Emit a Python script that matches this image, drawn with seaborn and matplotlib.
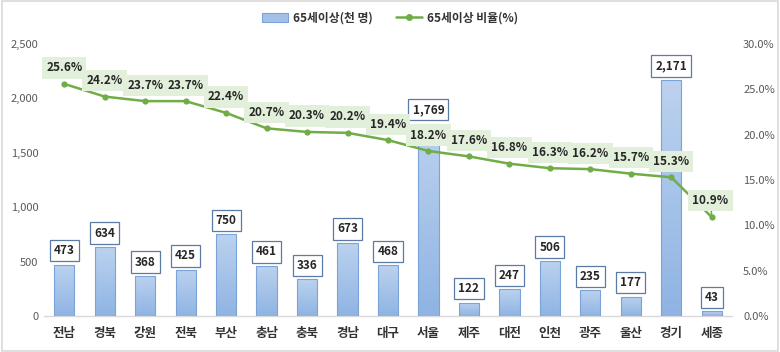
import numpy as np
import pandas as pd
import matplotlib
matplotlib.use("Agg")
import matplotlib.pyplot as plt
import seaborn as sns
from matplotlib.patches import Rectangle
from matplotlib.lines import Line2D
from matplotlib.ticker import FuncFormatter
from matplotlib.colors import LinearSegmentedColormap

regions = ["전남", "경북", "강원", "전북", "부산", "충남", "충북", "경남", "대구",
           "서울", "제주", "대전", "인천", "광주", "울산", "경기", "세종"]
elderly = [473, 634, 368, 425, 750, 461, 336, 673, 468,
           1769, 122, 247, 506, 235, 177, 2171, 43]
ratio = [25.6, 24.2, 23.7, 23.7, 22.4, 20.7, 20.3, 20.2, 19.4,
         18.2, 17.6, 16.8, 16.3, 16.2, 15.7, 15.3, 10.9]
bar_label = "65세이상(천 명)"
line_label = "65세이상 비율(%)"

sns.set_theme(style="white")
plt.rcParams['font.family'] = ['Noto Sans CJK KR', 'DejaVu Sans']

df = pd.DataFrame({"region": regions, "elderly": elderly, "ratio": ratio})

fig = plt.figure(figsize=(7.8, 3.52), dpi=100)
ax = fig.add_axes([44/780, 1-316/352, 688/780, 272/352])
ax2 = ax.twinx()

sns.barplot(data=df, x="region", y="elderly", ax=ax, color="#a3c1e8",
            width=0.5, edgecolor="#7aa3d8", linewidth=0.8, saturation=1)

# gradient fill inside bars
grad = np.linspace(0, 1, 100).reshape(-1, 1)
cmap = LinearSegmentedColormap.from_list("g", ["#8fb4e3", "#bcd2ef"])
for p in ax.patches:
    x0, w, h = p.get_x(), p.get_width(), p.get_height()
    im = ax.imshow(grad, extent=[x0, x0 + w, 0, h], origin="lower", cmap=cmap,
                   aspect="auto", zorder=2.9)
    im.set_clip_path(p)
    p.set_facecolor("none")
    p.set_zorder(3)

ax.set_xlim(-0.5, len(regions) - 0.5)
ax.set_ylim(0, 2500)
ax.set_yticks(range(0, 2501, 500))
ax.yaxis.set_major_formatter(FuncFormatter(lambda v, _: f"{int(v):,}"))
ax.tick_params(axis="y", labelsize=8, colors="#595959", length=0, pad=4)
ax.tick_params(axis="x", length=0, pad=8)
for t in ax.get_xticklabels():
    t.set_fontsize(9)
    t.set_fontweight("bold")
    t.set_color("#333333")
ax.set_xlabel("")
ax.set_ylabel("")
for s in ["top", "right", "left"]:
    ax.spines[s].set_visible(False)
ax.spines["bottom"].set_color("#d9d9d9")
ax.spines["bottom"].set_linewidth(1)

# bar value labels
for i, v in enumerate(elderly):
    ax.annotate(f"{v:,}", (i, v), xytext=(0, 10), textcoords="offset points",
                ha="center", va="center", fontsize=8.5, fontweight="bold",
                color="#262626", zorder=6,
                bbox=dict(boxstyle="square,pad=0.35", fc="white", ec="#5a7ba6", lw=0.9))

# line on secondary axis
sns.lineplot(x=list(range(len(regions))), y=ratio, ax=ax2, color="#70ad47",
             linewidth=1.8, marker="o", markersize=4.5, markeredgewidth=0,
             zorder=5)
ax2.set_ylim(0, 30)
ax2.set_yticks(range(0, 31, 5))
ax2.yaxis.set_major_formatter(FuncFormatter(lambda v, _: f"{v:.1f}%"))
ax2.tick_params(axis="y", labelsize=8, colors="#595959", length=0, pad=8)
ax2.set_ylabel("")
for s in ax2.spines.values():
    s.set_visible(False)

for i, r in enumerate(ratio):
    kw = dict(textcoords="offset points", ha="center", va="center", fontsize=8.5,
              fontweight="bold", color="#262626", zorder=7,
              bbox=dict(boxstyle="square,pad=0.35", fc="#e2efda", ec="none"))
    if i == len(ratio) - 1:
        ax2.annotate(f"{r:.1f}%", (i, r), xytext=(-1, 12),
                     arrowprops=dict(arrowstyle="-", color="#70ad47", lw=1.2,
                                     shrinkA=0, shrinkB=2), **kw)
    else:
        ax2.annotate(f"{r:.1f}%", (i, r), xytext=(0, 11.5), **kw)

# legend
handles = [Rectangle((0, 0), 1, 1, fc="#a3c1e8", ec="#7aa3d8", lw=0.8),
           Line2D([0], [0], color="#70ad47", lw=1.8, marker="o", markersize=4)]
leg = fig.legend(handles, [bar_label, line_label], loc="center",
                 bbox_to_anchor=(0.5, 1 - 18/352), ncol=2, frameon=False,
                 fontsize=8.5, handlelength=2.2, columnspacing=2.0,
                 handletextpad=0.4)
for t in leg.get_texts():
    t.set_fontweight("bold")
    t.set_color("#333333")

fig.patches.append(Rectangle((0.002, 0.003), 0.996, 0.994, transform=fig.transFigure,
                             fill=False, ec="#d9d9d9", lw=1.2))

fig.savefig("out.png", dpi=100)
